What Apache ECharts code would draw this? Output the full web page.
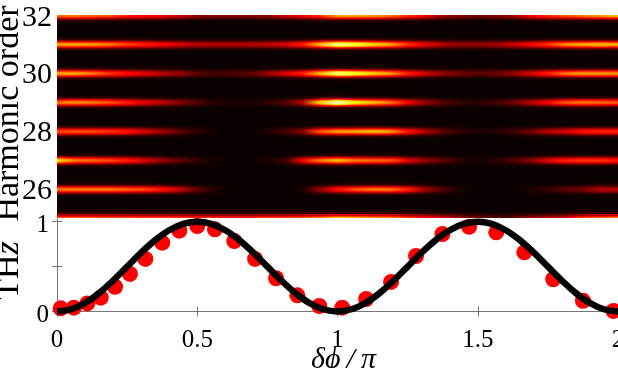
<!DOCTYPE html>
<html>
<head>
<meta charset="utf-8">
<style>
    html, body { margin: 0; padding: 0; background: #fff; }
    #chart { width: 618px; height: 368px; }
</style>
<script src="https://cdn.jsdelivr.net/npm/echarts@6/dist/echarts.min.js"></script>
</head>
<body>
<div id="chart"></div>
<script>
// phase samples (in units of pi) for the harmonic strips, 33 columns
var stripPhase = [0, 0.0625, 0.125, 0.1875, 0.25, 0.3125, 0.375, 0.4375, 0.5, 0.5625, 0.625, 0.6875, 0.75, 0.8125, 0.875, 0.9375, 1,
    1.0625, 1.125, 1.1875, 1.25, 1.3125, 1.375, 1.4375, 1.5, 1.5625, 1.625, 1.6875, 1.75, 1.8125, 1.875, 1.9375, 2];

// peak brightness of each harmonic along the phase (0 = black, 1 = white)
var order32 = [.55, .55, .52, .5, .42, .38, .35, .28, .2, .18, .18, .18, .2, .28, .35, .45, .62, .62, .6, .55, .45, .35, .22, .18, .15, .18, .22, .36, .45, .5, .55, .6, .66];
var order31 = [.6, .62, .6, .55, .48, .42, .36, .3, .25, .25, .25, .25, .26, .3, .42, .65, .9, .82, .7, .62, .45, .33, .25, .2, .2, .22, .28, .36, .45, .58, .62, .65, .62];
var order30 = [.62, .62, .55, .45, .38, .32, .25, .2, .12, .08, .1, .12, .2, .3, .42, .65, .88, .8, .68, .6, .42, .3, .2, .15, .12, .14, .2, .3, .42, .55, .6, .6, .58];
var order29 = [.55, .58, .55, .5, .42, .32, .26, .18, .1, .04, .02, .02, .05, .1, .25, .7, .95, .75, .65, .55, .35, .2, .12, .06, .04, .08, .14, .25, .35, .5, .55, .52, .5];
var order28 = [.48, .5, .48, .45, .4, .3, .22, .12, .05, .01, 0, 0, .03, .08, .18, .5, .6, .62, .65, .6, .4, .25, .12, .05, .02, .03, .08, .14, .25, .3, .4, .42, .42];
var order27 = [.72, .55, .52, .48, .42, .3, .2, .12, .05, .01, 0, 0, .02, .06, .35, .55, .65, .55, .52, .5, .32, .2, .12, .05, .01, .04, .1, .18, .32, .42, .45, .45, .4];
var order26 = [.55, .55, .55, .55, .52, .48, .4, .28, .12, .03, 0, 0, 0, 0, .02, .2, .38, .5, .55, .55, .42, .22, .1, .02, 0, 0, 0, .02, .06, .12, .15, .25, .25];
var order25 = [.5, .5, .5, .48, .48, .46, .46, .45, .42, .42, .42, .42, .45, .45, .5, .55, .65, .62, .58, .55, .45, .38, .3, .2, .15, .1, .12, .2, .25, .3, .45, .52, .55];

var harmonicOrders = [32, 31, 30, 29, 28, 27, 26, 25];
var harmonicRows = [order32, order31, order30, order29, order28, order27, order26, order25];

// cross section of a strip: distance from the harmonic (in orders) and relative brightness
var bandOffset = [-.243, -.208, -.173, -.139, -.104, -.069, -.035, 0, .035, .069, .104, .139, .173, .208, .243];
var bandProfile = [.02, .05, .12, .28, .5, .76, .94, 1, .94, .76, .5, .28, .12, .05, .02];

// THz signal, dots
var dotPhase = [.013, .06, .108, .156, .207, .26, .315, .375, .436, .5, .563, .632, .706, .781, .857, .935, 1.017, 1.102, 1.191, 1.28, 1.374, 1.469, 1.566, 1.666, 1.769, 1.875, 1.984];
var dotValue = [.035, .043, .09, .154, .276, .418, .585, .766, .9, .952, .915, .785, .585, .37, .18, .061, .043, .139, .329, .618, .863, .944, .882, .659, .359, .12, .006];

// THz signal, black curve
var curvePhase = [0, .05, .1, .15, .2, .25, .3, .35, .4, .45, .5, .55, .6, .65, .7, .75, .8, .85, .9, .95, 1,
    1.05, 1.1, 1.15, 1.2, 1.25, 1.3, 1.35, 1.4, 1.45, 1.5, 1.55, 1.6, 1.65, 1.7, 1.75, 1.8, 1.85, 1.9, 1.95, 2];
var curveValue = [0, .025, .095, .205, .345, .5, .655, .795, .905, .975, 1, .975, .905, .795, .655, .5, .345, .205, .095, .025, 0,
    .025, .095, .205, .345, .5, .655, .795, .905, .975, 1, .975, .905, .795, .655, .5, .345, .205, .095, .025, 0];

var orderTicks = [26, 28, 30, 32];
var phaseTicks = [0, 0.5, 1, 1.5, 2];
var signalLabels = [0, 1];
var signalTicks = [0, 0.5, 1];

var serif = '"Liberation Serif", serif';
var axisGrey = '#777777';

// black-red-yellow-white map
function hotColor(v) {
    var r = Math.min(1, 0.04 + v / 0.375);
    var g = Math.max(0, Math.min(1, (v - 0.375) / 0.375));
    var b = Math.max(0, Math.min(1, (v - 0.75) / 0.25));
    return 'rgb(' + Math.round(r * 255) + ',' + Math.round(g * 255) + ',' + Math.round(b * 255) + ')';
}

function renderStrip(params, api) {
    var row = api.value(2);
    var sub = api.value(3);
    var order = api.value(1);
    var half = 0.0175;
    var p0 = api.coord([0, order + half]);
    var p1 = api.coord([2, order - half]);
    var stops = [];
    for (var i = 0; i < stripPhase.length; i++) {
        stops.push({
            offset: stripPhase[i] / 2,
            color: hotColor(harmonicRows[row][i] * bandProfile[sub])
        });
    }
    var y0 = Math.round(p0[1]);
    return {
        type: 'rect',
        shape: { x: p0[0], y: y0, width: p1[0] - p0[0], height: Math.max(1, Math.round(p1[1]) - y0) },
        style: { fill: new echarts.graphic.LinearGradient(0, 0, 1, 0, stops) }
    };
}

var stripData = [];
for (var r = 0; r < harmonicOrders.length; r++) {
    for (var s = 0; s < bandOffset.length; s++) {
        stripData.push([1, harmonicOrders[r] + bandOffset[s], r, s]);
    }
}

var dotData = [];
for (var d = 0; d < dotPhase.length; d++) {
    dotData.push([dotPhase[d], dotValue[d]]);
}
var curveData = [];
for (var c = 0; c < curvePhase.length; c++) {
    curveData.push([curvePhase[c], curveValue[c]]);
}

var chart = echarts.init(document.getElementById('chart'), null, { renderer: 'canvas' });

var option = {
    animation: false,
    backgroundColor: '#ffffff',
    grid: [
        { left: 57, right: 0, top: 15, height: 203, show: true, backgroundColor: '#0a0000', borderWidth: 0, outerBoundsMode: 'none' },
        { left: 57, right: 0, top: 219, height: 97, outerBoundsMode: 'none' }
    ],
    xAxis: [
        {
            gridIndex: 0, type: 'value', min: 0, max: 2, interval: 0.5,
            axisLine: { show: false }, axisTick: { show: false }, axisLabel: { show: false }, splitLine: { show: false }
        },
        {
            gridIndex: 1, type: 'value', min: 0, max: 2, interval: 0.5,
            name: 'δϕ\u2009/\u2009π', nameLocation: 'middle', nameGap: 29, nameMoveOverlap: false,
            nameTextStyle: { fontFamily: serif, fontStyle: 'italic', fontSize: 30, color: '#000', padding: [0, 0, 0, 12] },
            axisLine: { lineStyle: { color: axisGrey, width: 1 } },
            axisTick: { inside: true, length: 5, lineStyle: { color: axisGrey } },
            axisLabel: {
                fontFamily: serif, fontSize: 25, color: '#000', margin: 12, showMinLabel: true, showMaxLabel: true,
                alignMinLabel: 'center', alignMaxLabel: 'center', hideOverlap: false,
                customValues: phaseTicks
            },
            splitLine: { show: false }
        },
        {
            gridIndex: 1, type: 'value', position: 'top', min: 0, max: 2, interval: 0.5,
            axisLine: { show: false },
            axisTick: { inside: true, length: 5, lineStyle: { color: axisGrey } },
            axisLabel: { show: false }, splitLine: { show: false }
        }
    ],
    yAxis: [
        {
            gridIndex: 0, type: 'value', min: 25, max: 32.03,
            name: 'Harmonic order', nameLocation: 'middle', nameGap: 31, nameRotate: 90, nameMoveOverlap: false,
            nameTextStyle: { fontFamily: serif, fontSize: 34, color: '#000', padding: [0, 0, 0, 6] },
            axisLine: { show: false },
            axisTick: { inside: true, length: 5, customValues: orderTicks, lineStyle: { color: axisGrey } },
            axisLabel: {
                fontFamily: serif, fontSize: 30, color: '#000', margin: 5, verticalAlign: 'top', lineHeight: 4,
                customValues: orderTicks
            },
            splitLine: { show: false }
        },
        {
            gridIndex: 1, type: 'value', min: -0.05, max: 1.03,
            name: '{a|TH}{b|z}', nameLocation: 'middle', nameGap: 31, nameRotate: 90, nameMoveOverlap: false,
            nameTextStyle: {
                padding: [0, 6, 0, 0],
                rich: {
                    a: { fontFamily: serif, fontSize: 34, color: '#000' },
                    b: { fontFamily: serif, fontSize: 34, fontStyle: 'italic', color: '#000' }
                }
            },
            axisLine: { show: true, lineStyle: { color: axisGrey, width: 1 } },
            axisTick: { inside: true, length: 5, customValues: signalTicks, lineStyle: { color: axisGrey } },
            axisLabel: {
                fontFamily: serif, fontSize: 25, color: '#000', margin: 8, verticalAlign: 'top', lineHeight: 7,
                customValues: signalLabels
            },
            splitLine: { show: false }
        },
        {
            gridIndex: 1, type: 'value', position: 'right', min: -0.05, max: 1.03,
            axisLine: { show: false },
            axisTick: { show: true, inside: true, length: 5, customValues: signalTicks, lineStyle: { color: axisGrey } },
            axisLabel: { show: false }, splitLine: { show: false }
        }
    ],
    series: [
        {
            type: 'custom',
            xAxisIndex: 0,
            yAxisIndex: 0,
            clip: true,
            silent: true,
            renderItem: renderStrip,
            encode: { x: 0, y: 1 },
            data: stripData
        },
        {
            type: 'scatter',
            xAxisIndex: 1,
            yAxisIndex: 1,
            symbolSize: 16,
            clip: false,
            silent: true,
            itemStyle: { color: '#ff0000', opacity: 1 },
            data: dotData,
            z: 3
        },
        {
            type: 'line',
            xAxisIndex: 1,
            yAxisIndex: 1,
            smooth: 0.4,
            showSymbol: false,
            clip: false,
            silent: true,
            lineStyle: { color: '#000000', width: 6.5 },
            data: curveData,
            z: 4
        }
    ]
};
chart.setOption(option);
</script>
</body>
</html>
